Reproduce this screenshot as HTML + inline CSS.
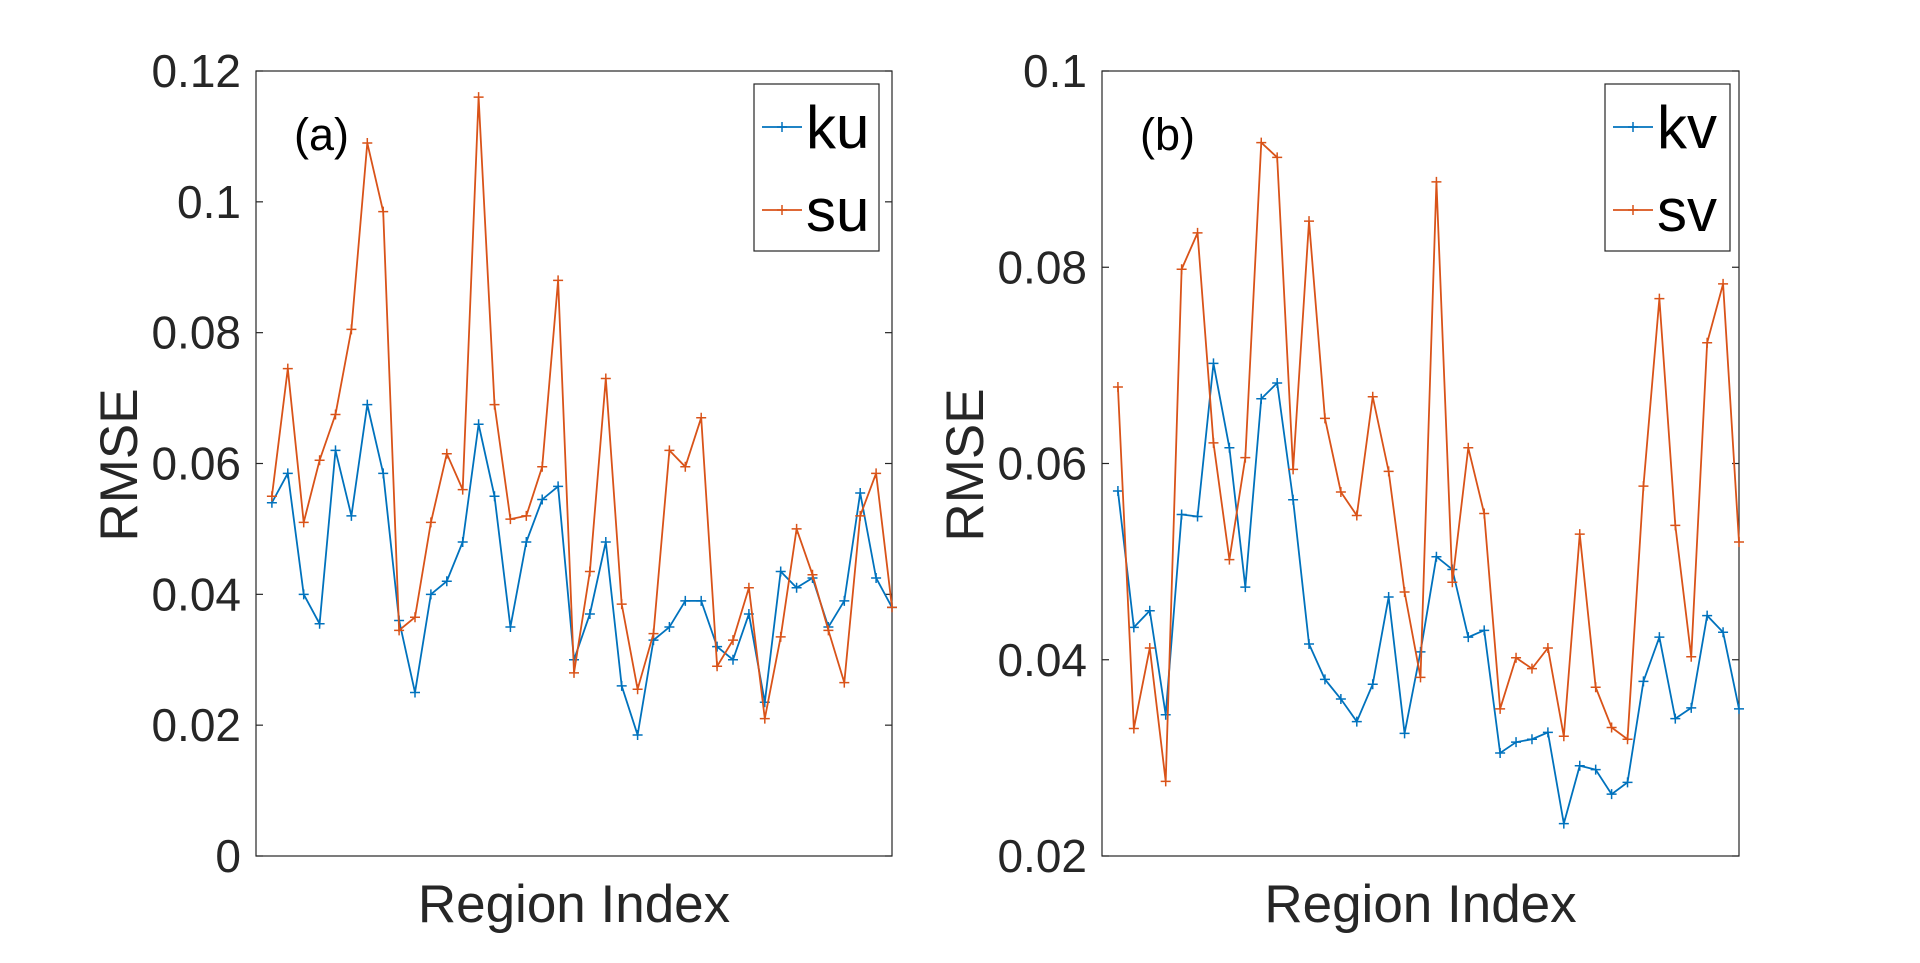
<!DOCTYPE html>
<html><head><meta charset="utf-8"><style>
body{margin:0;background:#fff;}
svg{display:block;font-family:"Liberation Sans",Arial,sans-serif;}
</style></head><body>
<svg id="chart" width="1920" height="963" viewBox="0 0 1920 963"></svg>
<script>
const indices = Array.from({length:40},(_,i)=>i+1);
const kuValues = [0.054,0.0585,0.040,0.0355,0.062,0.052,0.069,0.0585,0.036,0.025,0.040,0.042,0.048,0.066,0.055,0.035,0.048,0.0545,0.0565,0.030,0.037,0.048,0.026,0.0185,0.033,0.035,0.039,0.039,0.032,0.030,0.037,0.0235,0.0435,0.041,0.0425,0.035,0.039,0.0555,0.0425,0.038];
const suValues = [0.055,0.0745,0.051,0.0605,0.0675,0.0805,0.109,0.0985,0.0345,0.0365,0.051,0.0615,0.056,0.116,0.069,0.0515,0.052,0.0595,0.088,0.028,0.0435,0.073,0.0385,0.0255,0.034,0.062,0.0595,0.067,0.029,0.033,0.041,0.021,0.0335,0.050,0.043,0.0345,0.0265,0.052,0.0585,0.038];
const kvValues = [0.0572,0.0433,0.045,0.0344,0.0548,0.0546,0.0702,0.0616,0.0474,0.0666,0.0682,0.0563,0.0416,0.038,0.036,0.0337,0.0375,0.0464,0.0325,0.0408,0.0505,0.0492,0.0423,0.043,0.0305,0.0316,0.0319,0.0326,0.0233,0.0292,0.0288,0.0263,0.0275,0.0378,0.0423,0.034,0.0351,0.0445,0.0428,0.035];
const svValues = [0.0678,0.033,0.0412,0.0276,0.0798,0.0835,0.0621,0.0502,0.0606,0.0927,0.0912,0.0594,0.0847,0.0646,0.0571,0.0547,0.0668,0.0592,0.0469,0.0382,0.0887,0.0479,0.0616,0.0549,0.035,0.0402,0.0391,0.0412,0.0322,0.0528,0.0372,0.0331,0.0319,0.0577,0.0768,0.0537,0.0403,0.0723,0.0783,0.052];
const ticksA = [0,0.02,0.04,0.06,0.08,0.1,0.12];
const tickLabelsA = ["0","0.02","0.04","0.06","0.08","0.1","0.12"];
const ticksB = [0.02,0.04,0.06,0.08,0.1];
const tickLabelsB = ["0.02","0.04","0.06","0.08","0.1"];

const NS="http://www.w3.org/2000/svg";
const svg=document.getElementById('chart');
function mk(tag,attrs,parent,text){const e=document.createElementNS(NS,tag);for(const k in attrs)e.setAttribute(k,attrs[k]);if(text!==undefined)e.textContent=text;(parent||svg).appendChild(e);return e;}

function panel(cfg){
  const g=mk('g',{});
  
  
  const L=cfg.left,R=cfg.right,T=71,B=856;
  const xs=i=>L+(R-L)*i/40;
  const ys=v=>B-(B-T)*(v-cfg.ymin)/(cfg.ymax-cfg.ymin);
  const frame=mk('rect',{x:L,y:T,width:R-L,height:B-T,fill:'none',stroke:'#262626','stroke-width':1.2},g);
  
  
  cfg.ticks.forEach((t,k)=>{
    const y=ys(t);
    mk('line',{x1:L,x2:L+7,y1:y,y2:y,stroke:'#262626','stroke-width':1.2},g);
    mk('line',{x1:R-7,x2:R,y1:y,y2:y,stroke:'#262626','stroke-width':1.2},g);
    const tl=mk('text',{x:L-15,y:y+16,'text-anchor':'end','font-size':46,fill:'#262626'},g,cfg.labels[k]);
    
    
  });
  const yt=mk('text',{x:0,y:0,transform:`translate(${L-119},465) rotate(-90)`,'text-anchor':'middle','font-size':53,fill:'#262626'},g,'RMSE');
  
  
  const xt=mk('text',{x:(L+R)/2,y:922,'text-anchor':'middle','font-size':53,fill:'#262626'},g,'Region Index');
  
  
  const pl=mk('text',{x:L+38,y:150,'font-size':45,fill:'#000'},g,cfg.tag);
  
  
  cfg.series.forEach(s=>{
    const sg=mk('g',{},g);
    
    
    const pts=indices.map((x,i)=>xs(x)+','+ys(s.vals[i])).join(' ');
    mk('polyline',{points:pts,fill:'none',stroke:s.color,'stroke-width':1.8},sg);
    indices.forEach((x,i)=>{
      const px=xs(x),py=ys(s.vals[i]);
      const m=mk('path',{d:`M${px-5},${py}H${px+5}M${px},${py-5}V${py+5}`,stroke:s.color,'stroke-width':1.5},sg);
      
      
    });
  });
  const lg=mk('g',{},g);
  
  
  const lx=cfg.legX;
  mk('rect',{x:lx,y:84,width:125,height:167,fill:'#fff',stroke:'#262626','stroke-width':1.2},lg);
  cfg.series.forEach((s,k)=>{
    const y=127+k*83;
    const le=mk('g',{},lg);
    
    
    mk('line',{x1:lx+8,x2:lx+48,y1:y,y2:y,stroke:s.color,'stroke-width':1.8},le);
    mk('path',{d:`M${lx+23},${y}H${lx+33}M${lx+28},${y-5}V${y+5}`,stroke:s.color,'stroke-width':1.5},le);
    mk('text',{x:lx+52,y:y+21,'font-size':60,fill:'#000'},le,s.name);
  });
}
panel({name:'panel-a',tag:'(a)',left:256,right:892,ymin:0,ymax:0.12,ticks:ticksA,labels:tickLabelsA,legX:754,
  series:[{name:'ku',vals:kuValues,color:'#0072BD'},{name:'su',vals:suValues,color:'#D95319'}]});
panel({name:'panel-b',tag:'(b)',left:1102,right:1739,ymin:0.02,ymax:0.1,ticks:ticksB,labels:tickLabelsB,legX:1605,
  series:[{name:'kv',vals:kvValues,color:'#0072BD'},{name:'sv',vals:svValues,color:'#D95319'}]});
</script>
</body></html>
